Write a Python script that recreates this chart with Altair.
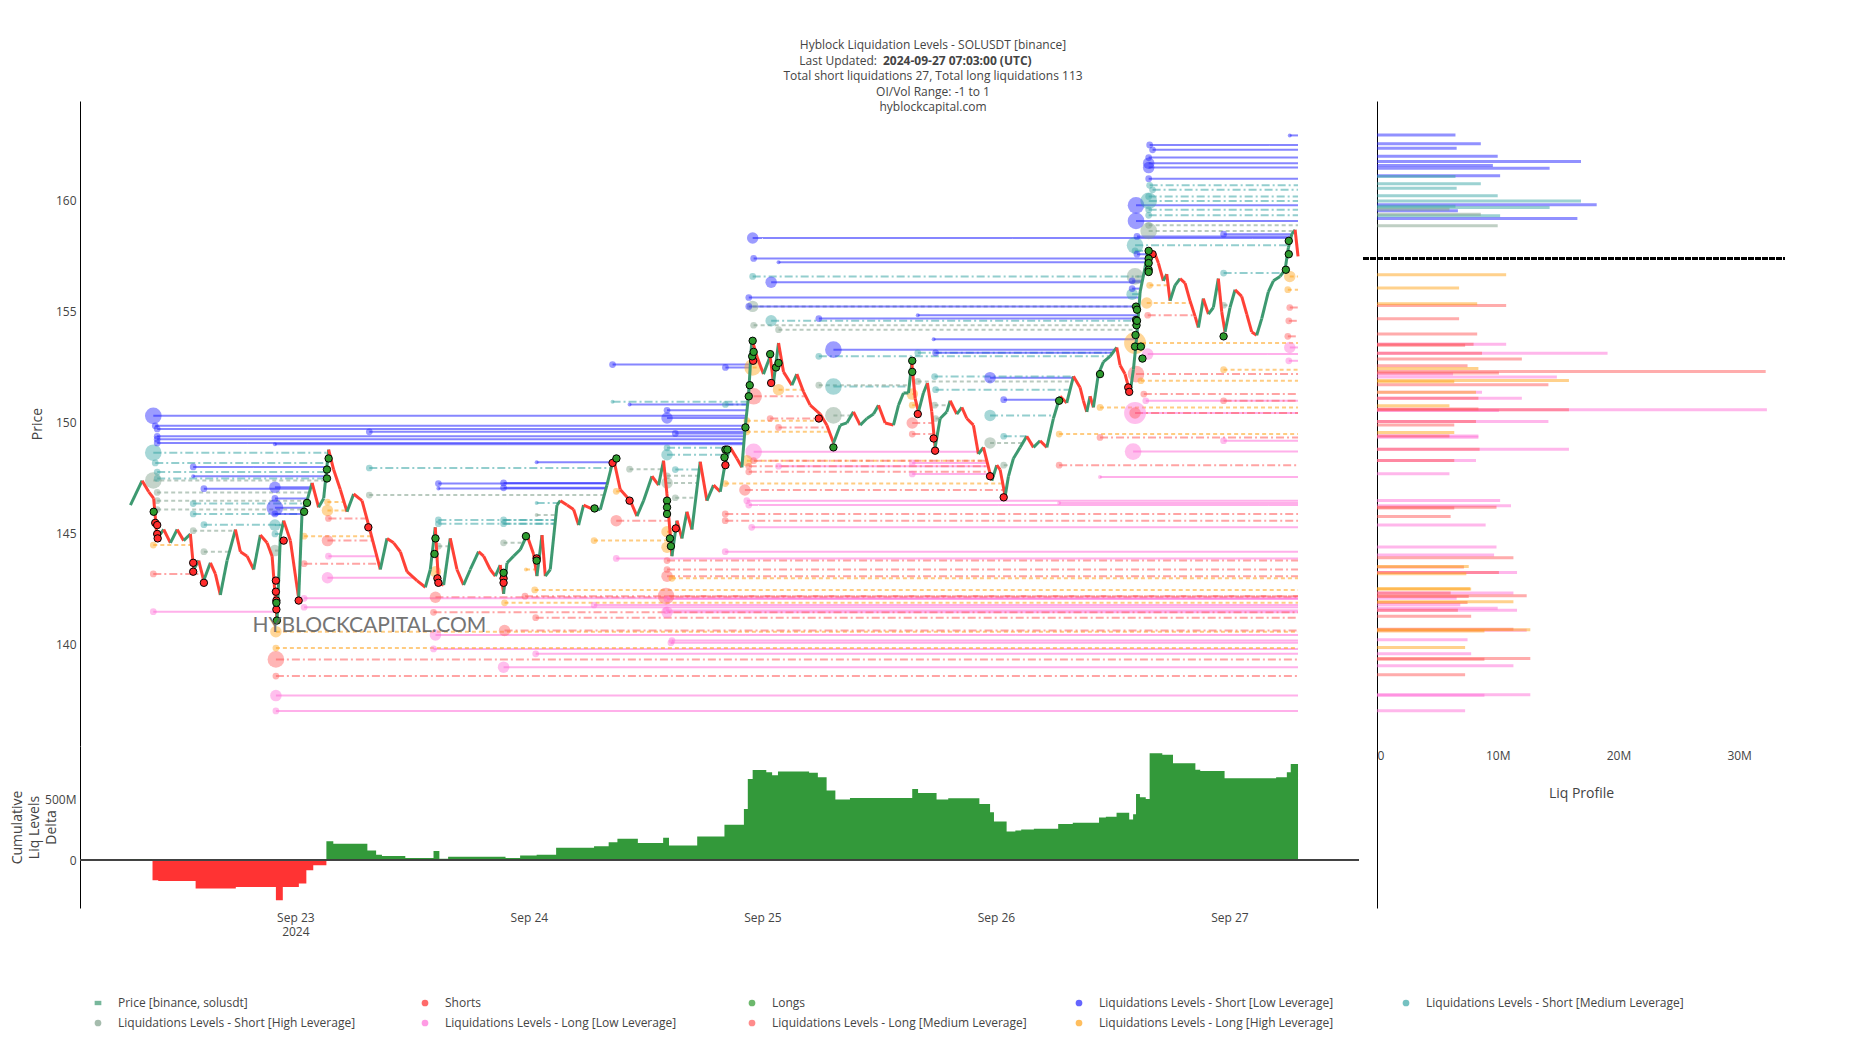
import altair as alt
import numpy as np
import pandas as pd

BASE = pd.Timestamp("2024-09-22 00:00:00")
END_H = 127.05

# ---------------- price path (hours since Sep 22 00:00, price) ----------------
price_hours = [7.05, 8.25, 8.93, 9.44, 9.79, 10.47, 11.16, 11.85, 12.52, 13.21, 13.55, 14.07, 14.58, 15.27, 15.78,
               16.29, 16.98, 17.84, 18.35, 19.04, 19.72, 20.40, 21.09, 21.61, 22.12, 22.46, 22.80, 23.49, 24.34,
               24.69, 25.20, 25.72, 26.39, 26.91, 27.42, 27.93, 28.62, 29.31, 29.99, 30.85, 31.53, 32.73, 33.42,
               34.10, 34.79, 35.48, 36.50, 37.36, 37.87, 38.38, 38.72, 39.24, 39.92, 40.61, 41.29, 41.98, 42.83,
               43.35, 44.03, 44.55, 45.06, 45.40, 45.75, 46.43, 47.12, 47.80, 48.48, 48.83, 49.35, 49.69, 50.20,
               50.89, 51.23, 51.92, 52.60, 53.11, 53.62, 54.65, 55.34, 56.02, 56.70, 57.39, 58.42, 59.11, 59.79,
               60.65, 61.33, 61.84, 62.19, 62.70, 63.22, 63.73, 64.24, 64.76, 65.61, 66.30, 66.98, 67.67, 68.18,
               68.69, 69.38, 69.89, 70.23, 70.57, 70.92, 71.43, 72.11, 72.80, 73.14, 73.66, 74.17, 75.03, 75.54,
               76.23, 76.91, 77.94, 78.63, 79.31, 80.00, 80.68, 81.36, 82.05, 82.74, 83.42, 83.93, 84.62, 85.47,
               85.99, 86.50, 87.01, 87.36, 87.70, 88.04, 88.55, 88.96, 89.41, 89.75, 90.27, 90.95, 91.30, 91.98,
               92.50, 93.01, 93.69, 94.20, 94.72, 95.58, 96.09, 96.43, 96.95, 97.29, 97.80, 98.49, 99.17, 99.86,
               100.54, 101.23, 101.91, 102.60, 103.28, 103.97, 104.65, 104.99, 105.34, 105.68, 106.02, 106.53,
               107.05, 107.73, 108.42, 108.76, 109.27, 109.79, 110.13, 110.48, 110.82, 111.33, 111.67, 112.02,
               112.36, 112.70, 113.21, 113.56, 113.90, 114.41, 114.93, 115.44, 115.95, 116.47, 116.81, 117.32,
               117.84, 118.35, 118.86, 119.21, 119.55, 120.06, 120.58, 121.26, 121.78, 122.29, 122.80, 123.32,
               124.00, 124.52, 125.20, 125.72, 126.06, 126.41, 126.75, 127.05]
price_values = [146.3, 147.4, 146.9, 146.6, 144.8, 145.2, 144.6, 145.2, 144.7, 145.0, 143.4, 143.8, 142.9, 143.7, 143.2,
                142.25, 143.8, 145.2, 144.2, 144.0, 143.4, 144.95, 144.6, 144.0, 141.1, 144.9, 145.6, 144.7, 142.1,
                146.0, 146.5, 147.3, 146.2, 146.6, 148.8, 147.9, 147.0, 146.0, 146.8, 146.5, 145.4, 143.4, 144.8,
                144.6, 144.2, 143.3, 142.9, 142.6, 143.4, 145.3, 142.8, 142.7, 144.8, 143.4, 142.7, 143.4, 144.2,
                144.0, 143.4, 143.1, 143.6, 142.3, 143.7, 144.0, 144.3, 144.95, 144.1, 143.1, 144.95, 143.1, 143.4,
                146.3, 146.5, 146.3, 146.1, 145.4, 146.3, 146.1, 146.1, 147.2, 148.4, 147.0, 146.5, 145.8, 146.5,
                147.6, 147.2, 148.3, 146.8, 144.0, 145.6, 144.8, 146.0, 145.2, 148.25, 146.5, 147.2, 146.9, 148.2,
                148.9, 148.4, 148.0, 149.8, 151.2, 153.8, 153.0, 152.2, 153.0, 151.8, 153.6, 152.3, 151.7, 152.2,
                151.4, 150.8, 150.4, 149.9, 149.1, 149.9, 150.0, 150.5, 149.9, 150.2, 150.4, 150.8, 150.0, 149.9,
                150.8, 151.35, 151.35, 152.7, 151.1, 150.5, 151.35, 151.8, 150.5, 148.9, 150.2, 150.5, 151.0, 150.4,
                150.7, 150.2, 149.9, 148.6, 148.9, 147.4, 148.1, 147.9, 146.7, 147.6, 148.4, 148.9, 149.4, 148.9,
                149.2, 148.9, 150.2, 151.2, 150.9, 152.1, 151.6, 151.0, 150.5, 151.2, 150.7, 152.2,
                152.75, 153.0, 153.4, 152.6, 152.2, 151.35, 152.4, 153.9, 155.9, 157.0, 157.9, 157.7,
                157.6, 157.2, 156.4, 156.7, 155.5, 156.2, 156.5, 156.3, 155.5, 154.8, 154.3, 155.6,
                154.9, 155.2, 156.5, 155.0, 154.1, 155.2, 156.0, 155.7, 154.9, 154.1, 153.95, 154.7,
                155.9, 156.4, 156.6, 156.9, 157.9, 158.5, 158.7, 157.5]

# ---------------- liquidation events on the price path ----------------
short_hours = [9.6, 9.8, 9.8, 9.85, 13.5, 13.5, 14.6, 22.0, 22.0, 22.05, 22.05, 22.8, 24.34, 31.5, 38.6, 38.7, 45.4,
               45.4, 48.8, 56.6, 58.35, 63.1, 68.2, 71.05, 72.9, 77.8, 87.97, 89.6, 89.75, 95.4, 96.8, 109.6,
               109.7, 112.1]
short_prices = [145.5, 145.4, 145.0, 144.8, 143.7, 143.3, 142.8, 142.9, 142.4, 142.0, 141.6, 144.7, 142.0, 145.3,
                143.0, 142.8, 143.0, 142.8, 143.9, 148.2, 146.5, 145.25, 148.1, 152.8, 151.8, 150.2, 150.4, 149.3,
                148.75, 147.6, 146.65, 151.6, 151.4, 157.6]
long_hours = [9.44, 22.05, 22.1, 24.9, 25.2, 27.25, 27.25, 27.42, 38.3, 38.4, 45.4, 47.7, 48.8, 54.75, 57.0, 62.2,
              62.2, 62.2, 62.5, 62.6, 68.1, 68.2, 68.4, 70.26, 70.6, 70.7, 70.95, 71.0, 71.1, 72.8, 73.4, 73.66,
              79.3, 87.4, 87.4, 102.5, 106.7, 110.3, 110.35, 110.4, 110.4, 110.45, 110.5, 110.5, 110.9, 111.06,
              111.7, 111.7, 111.7, 111.7, 111.7, 119.4, 125.8, 126.1, 126.1]
long_prices = [146.0, 141.9, 141.1, 146.0, 146.4, 147.5, 147.9, 148.4, 144.1, 144.8, 143.25, 144.9, 143.8, 146.15,
               148.4, 146.5, 146.2, 145.9, 144.8, 144.45, 148.45, 148.8, 148.8, 149.8, 151.2, 151.7, 153.0, 153.7,
               153.2, 153.1, 152.5, 152.7, 148.9, 152.8, 152.3, 151.0, 152.2, 153.44, 153.96, 155.24, 154.64,
               154.4, 155.1, 154.6, 153.44, 152.9, 157.75, 157.4, 157.2, 156.9, 156.8, 153.9, 156.9, 157.6, 158.2]

# ---------------- liquidation levels: (start hour, price, marker weight 0-4) ----------------
levels_short_low = [(9.4, 150.32, 3), (9.6, 149.87, 1), (9.8, 149.73, 1), (9.8, 149.40, 1), (9.8, 149.27, 1),
                    (9.8, 149.10, 1), (21.9, 149.04, 0), (13.5, 148.02, 1), (13.5, 147.60, 0), (14.6, 147.04, 1),
                    (21.9, 147.10, 2), (21.9, 146.60, 1), (21.9, 146.18, 3), (21.9, 145.90, 1), (31.6, 149.60, 1),
                    (48.8, 148.23, 0), (38.7, 147.27, 1), (38.7, 147.05, 0), (45.4, 147.30, 1), (45.4, 147.08, 1),
                    (56.6, 152.63, 1), (58.35, 150.83, 0), (62.2, 150.57, 1), (62.2, 150.22, 2), (63.05, 149.53, 1),
                    (68.2, 152.50, 1), (71.0, 158.33, 2), (71.1, 157.41, 1), (73.66, 157.24, 0), (72.9, 156.34, 2),
                    (70.6, 155.65, 1), (70.6, 155.25, 1), (77.8, 154.70, 1), (79.3, 153.30, 3), (87.97, 154.85, 0),
                    (89.6, 153.77, 0), (89.8, 153.16, 1), (95.4, 152.04, 2), (96.8, 151.05, 1), (111.8, 162.52, 1),
                    (112.1, 162.30, 1), (111.7, 161.95, 1), (111.7, 161.70, 2), (111.7, 161.50, 2), (111.7, 161.00, 1),
                    (126.2, 162.95, 0), (110.4, 159.80, 3), (110.4, 159.10, 3), (110.5, 158.40, 1), (119.4, 158.50, 1),
                    (110.5, 157.60, 1), (110.0, 156.40, 1), (110.0, 156.05, 1)]
levels_short_med = [(9.4, 148.66, 3), (9.6, 148.20, 1), (9.8, 147.79, 1), (9.8, 147.50, 1), (13.5, 146.37, 1),
                    (13.5, 145.90, 1), (14.6, 145.42, 1), (21.9, 145.40, 2), (21.9, 145.00, 1), (31.6, 147.97, 1),
                    (38.7, 145.63, 1), (38.7, 145.46, 1), (45.4, 145.63, 1), (45.4, 145.46, 1), (48.8, 146.40, 0),
                    (56.6, 150.95, 0), (62.2, 148.88, 1), (62.2, 148.57, 2), (63.05, 147.90, 1), (68.2, 150.83, 1),
                    (71.0, 156.60, 1), (72.9, 154.60, 2), (77.8, 153.00, 1), (79.3, 151.64, 3), (87.97, 153.16, 1),
                    (89.7, 152.09, 1), (89.8, 151.50, 1), (95.4, 150.34, 2), (96.8, 149.40, 1), (111.8, 160.70, 1),
                    (112.1, 160.50, 1), (111.7, 160.20, 1), (111.7, 160.00, 3), (111.7, 159.60, 1), (111.7, 159.35, 1),
                    (110.3, 158.00, 3), (110.3, 157.75, 1), (119.4, 156.75, 1), (110.0, 155.80, 2)]
levels_short_high = [(9.4, 147.41, 3), (9.8, 146.87, 1), (9.8, 146.50, 1), (9.8, 146.10, 1), (13.5, 145.15, 1),
                     (14.6, 144.20, 1), (21.9, 144.25, 2), (31.6, 146.75, 1), (38.7, 144.45, 1), (45.4, 144.60, 1),
                     (48.8, 145.85, 0), (58.35, 147.92, 1), (62.2, 147.62, 1), (62.2, 147.30, 2), (63.05, 146.63, 1),
                     (71.0, 155.25, 2), (71.1, 154.40, 1), (73.66, 154.20, 1), (77.8, 151.70, 1), (79.3, 150.34, 3),
                     (87.97, 151.87, 1), (89.7, 150.80, 1), (89.8, 150.20, 1), (95.4, 149.10, 2), (96.8, 148.10, 1),
                     (111.7, 158.90, 1), (111.7, 158.65, 3), (110.3, 156.60, 3), (119.4, 155.30, 1)]
levels_long_low = [(9.4, 141.50, 1), (24.9, 141.70, 1), (24.9, 142.10, 1), (22.0, 137.72, 2), (22.0, 137.03, 1),
                   (38.4, 140.45, 2), (38.2, 139.82, 1), (48.7, 139.60, 1), (45.4, 139.00, 2), (54.7, 141.80, 1),
                   (62.1, 141.55, 1), (62.7, 140.20, 1), (56.98, 143.90, 1), (68.18, 144.20, 1), (70.4, 146.50, 1),
                   (70.6, 146.30, 1), (70.9, 145.30, 1), (71.1, 148.70, 3), (73.66, 148.05, 1), (62.2, 142.07, 1),
                   (62.2, 141.47, 2), (62.6, 140.10, 1), (87.4, 148.20, 1), (87.4, 147.70, 1), (102.5, 146.40, 0),
                   (106.7, 147.57, 0), (110.1, 148.71, 3), (110.3, 150.45, 4), (111.6, 153.10, 2), (111.4, 151.00, 1),
                   (119.4, 149.20, 1), (126.2, 153.40, 2), (126.1, 152.80, 1), (27.4, 144.00, 1), (27.3, 143.03, 2)]
levels_long_med = [(9.4, 143.20, 1), (38.4, 142.15, 2), (47.6, 142.20, 1), (38.2, 141.47, 1), (48.7, 141.23, 1),
                   (45.5, 140.65, 2), (22.0, 139.35, 3), (22.0, 138.60, 1), (62.1, 142.20, 3), (56.98, 145.60, 2),
                   (62.2, 143.80, 1), (62.2, 143.40, 1), (62.2, 143.10, 2), (68.18, 145.90, 1), (68.18, 145.60, 1),
                   (70.2, 146.98, 2), (70.6, 148.05, 1), (70.6, 147.80, 1), (71.1, 148.30, 1), (73.66, 149.80, 1),
                   (72.8, 150.20, 1), (71.1, 151.20, 3), (87.4, 150.00, 2), (87.4, 149.50, 1), (102.5, 148.10, 1),
                   (106.7, 149.35, 1), (110.4, 152.20, 3), (110.3, 150.45, 2), (111.2, 151.30, 1), (111.6, 154.85, 1),
                   (119.4, 151.00, 1), (126.2, 155.20, 1), (126.1, 154.60, 1), (126.0, 153.90, 1), (27.4, 145.70, 1),
                   (27.3, 144.70, 2), (24.9, 143.66, 1)]
levels_long_high = [(9.4, 144.50, 1), (22.0, 140.60, 2), (22.0, 139.86, 1), (48.6, 142.48, 1), (45.5, 141.90, 1),
                    (27.3, 146.06, 2), (27.3, 146.44, 1), (24.9, 144.90, 1), (38.4, 143.30, 2), (47.7, 143.40, 0),
                    (54.7, 144.70, 1), (56.98, 146.92, 1), (62.2, 145.10, 2), (62.2, 144.40, 2), (62.7, 143.00, 1),
                    (68.18, 147.27, 1), (70.4, 148.30, 2), (70.4, 150.10, 1), (70.4, 149.60, 1), (71.0, 152.50, 3),
                    (73.66, 151.50, 2), (87.4, 151.30, 2), (87.4, 150.80, 1), (102.5, 149.50, 1), (106.7, 150.70, 1),
                    (110.3, 153.60, 4), (111.5, 155.40, 2), (111.8, 156.20, 1), (110.9, 151.90, 1), (119.4, 152.40, 1),
                    (126.2, 156.60, 2), (126.0, 156.00, 1)]

# ---------------- cumulative liq levels delta (step start hour, value in millions) ----------------
delta_hours = [7.0, 9.32, 9.91, 13.75, 17.88, 22.0, 22.71, 24.36, 25.13, 25.84, 27.19, 27.9, 31.4, 32.3, 32.9, 35.3,
               38.2, 38.8, 39.7, 45.6, 47.1, 48.8, 50.8, 54.7, 56.2, 57.1, 59.2, 61.8, 62.4, 65.3, 68.1, 70.1, 70.5,
               71.0, 72.4, 73.0, 73.6, 76.8, 77.7, 78.6, 79.5, 81.0, 87.4, 88.0, 89.9, 91.1, 94.3, 95.4, 95.8, 97.1,
               98.0, 98.6, 99.9, 102.4, 103.9, 106.6, 107.3, 108.4, 109.7, 110.1, 110.4, 110.8, 111.4, 111.8, 113.1,
               114.2, 116.5, 117.0, 119.5, 124.8, 125.9, 126.3, 127.05]
delta_values_m = [11, -164, -170, -232, -219, -328, -219, -191, -82, -41, 158, 137, 82, 46, 36, 19, 76, 14, 30, 19,
                  41, 46, 104, 117, 150, 178, 142, 186, 123, 197, 292, 423, 669, 743, 724, 700, 732, 720, 683, 574,
                  500, 514, 587, 555, 500, 511, 464, 396, 320, 238, 246, 254, 260, 300, 309, 352, 358, 391, 336, 380,
                  546, 519, 505, 882, 869, 800, 746, 735, 675, 683, 724, 792, 792]

# ---------------- liq profile: (price, amount in millions) ----------------
profile_short_low = [(162.97, 6.5), (162.57, 8.6), (162.37, 6.6), (162.01, 10.0), (161.77, 16.9), (161.59, 9.6),
                     (161.47, 14.3), (161.13, 10.2), (159.82, 18.2), (159.56, 6.7), (159.21, 16.6)]
profile_short_med = [(161.10, 6.5), (160.77, 8.6), (160.57, 6.6), (160.23, 10.0), (160.00, 16.9), (159.70, 14.3),
                     (159.33, 10.2), (159.76, 6.5)]
profile_short_high = [(159.40, 8.6), (158.88, 10.0), (159.62, 6.0)]
profile_long_low = [(153.54, 10.7), (153.14, 19.1), (152.06, 14.9), (152.20, 6.3), (151.38, 8.7), (151.11, 12.0),
                    (150.59, 32.3), (150.55, 10.1), (150.06, 14.2), (149.41, 8.4), (149.35, 8.4), (148.81, 15.9),
                    (148.30, 8.2), (147.70, 6.0), (146.50, 10.2), (146.26, 11.1), (145.40, 9.0), (144.40, 9.9),
                    (144.05, 9.7), (143.26, 11.6), (142.33, 11.3), (142.10, 6.6), (141.80, 6.9), (141.65, 10.0),
                    (141.55, 11.6), (140.65, 12.4), (140.23, 7.5), (139.60, 7.8), (139.05, 11.3), (137.75, 12.7),
                    (137.72, 8.9), (137.03, 7.3)]
profile_long_med = [(155.29, 10.7), (154.69, 6.8), (154.00, 8.3), (153.54, 8.0), (153.50, 7.3), (153.14, 8.7),
                    (152.88, 12.0), (152.57, 7.5), (152.31, 32.2), (152.24, 10.1), (151.71, 14.2), (151.11, 8.4),
                    (150.59, 15.9), (150.62, 8.4), (150.06, 8.2), (149.90, 6.4), (149.41, 6.0), (148.81, 8.5),
                    (148.30, 6.4), (146.16, 6.4), (146.20, 9.9), (145.78, 6.1), (143.92, 11.3), (143.50, 7.2),
                    (143.26, 10.1), (142.33, 6.1), (142.21, 12.4), (142.18, 7.6), (141.90, 7.5), (141.55, 6.7),
                    (141.28, 7.8), (140.70, 11.3), (139.38, 12.7), (139.35, 8.9), (138.65, 7.3)]
profile_long_high = [(156.67, 10.7), (156.07, 6.8), (155.36, 8.3), (152.45, 8.4), (151.91, 15.9), (151.85, 6.4),
                     (151.38, 8.2), (150.77, 6.0), (149.56, 6.4), (143.53, 7.6), (143.20, 7.4), (142.52, 7.7),
                     (142.51, 7.8), (141.94, 11.3), (140.68, 12.7), (140.62, 8.9), (139.88, 7.3)]
CURRENT_PRICE = 157.42
CURRENT_LINE_X = (-1.1e6, 33.8e6)

# ---------------- text ----------------
TITLE_LINES = ["Hyblock Liquidation Levels - SOLUSDT [binance]", None,
               "Total short liquidations 27, Total long liquidations 113", "OI/Vol Range: -1 to 1",
               "hyblockcapital.com"]
TITLE_LINE2_A = "Last Updated:"
TITLE_LINE2_B = "2024-09-27 07:03:00 (UTC)"
WATERMARK = "HYBLOCKCAPITAL.COM"
WATERMARK_AT = (31.6, 140.86)

S_PRICE = "Price [binance, solusdt]"
S_SHORTS = "Shorts"
S_LONGS = "Longs"
S_SL = "Liquidations Levels - Short [Low Leverage]"
S_SM = "Liquidations Levels - Short [Medium Leverage]"
S_SH = "Liquidations Levels - Short [High Leverage]"
S_LL = "Liquidations Levels - Long [Low Leverage]"
S_LM = "Liquidations Levels - Long [Medium Leverage]"
S_LH = "Liquidations Levels - Long [High Leverage]"
SERIES = [S_PRICE, S_SHORTS, S_LONGS, S_SL, S_SM, S_SH, S_LL, S_LM, S_LH]
COLORS = ["#3D9970", "#ff2b2b", "#2e9a2e", "#2323ff", "#3aa6a6", "#7f9f8a", "#ff70d8", "#ff5a5a", "#ffa31a"]
DASHES = [[10, 0], [10, 0], [10, 0], [10, 0], [8, 3, 2, 3], [4, 3], [10, 0], [8, 3, 2, 3], [4, 3]]
SHAPES = ["M-1,-0.65L1,-0.65L1,0.65L-1,0.65Z"] + ["circle"] * 8
UP_COLOR, DOWN_COLOR = "#3D9970", "#FF4136"
FONT = "Open Sans"
TXT = "#444"


def ts(hours):
    return list((BASE + pd.to_timedelta(np.asarray(hours, dtype=float), unit="h")).strftime("%Y-%m-%dT%H:%M:%S"))


ph = np.asarray(price_hours)
pv = np.asarray(price_values)


def level_end(start, price, side):
    for i in range(len(ph) - 1):
        h0, h1, p0, p1 = ph[i], ph[i + 1], pv[i], pv[i + 1]
        if h1 <= start + 0.25:
            continue
        hit = max(p0, p1) >= price if side == "short" else min(p0, p1) <= price
        if not hit:
            continue
        f = 0.0 if p1 == p0 else min(max((price - p0) / (p1 - p0), 0.0), 1.0)
        t = h0 + f * (h1 - h0)
        if t <= start + 0.25:
            continue
        return t
    return END_H


rows = []
for series, side, lv in [(S_SL, "short", levels_short_low), (S_SM, "short", levels_short_med),
                         (S_SH, "short", levels_short_high), (S_LL, "long", levels_long_low),
                         (S_LM, "long", levels_long_med), (S_LH, "long", levels_long_high)]:
    for start, price, w in lv:
        rows.append(dict(series=series, start_h=start, end_h=level_end(start, price, side), price=price,
                         w=float(w)))
levels = pd.DataFrame(rows)
levels["start"] = ts(levels["start_h"])
levels["end"] = ts(levels["end_h"])
levels = levels.sort_values("w", ascending=False)

seg = pd.DataFrame({"t0": ts(ph[:-1]), "t1": ts(ph[1:]), "p0": pv[:-1], "p1": pv[1:]})
seg["up"] = seg["p1"] >= seg["p0"]

events = pd.DataFrame({
    "t": ts(short_hours + long_hours),
    "price": short_prices + long_prices,
    "series": [S_SHORTS] * len(short_hours) + [S_LONGS] * len(long_hours),
})

delta = pd.DataFrame({"t": ts(delta_hours), "v": np.asarray(delta_values_m, dtype=float) * 1e6})
delta["pos"] = delta["v"].clip(lower=0)
delta["neg"] = delta["v"].clip(upper=0)

prof_rows = []
for series, pr in [(S_SL, profile_short_low), (S_SM, profile_short_med), (S_SH, profile_short_high),
                   (S_LL, profile_long_low), (S_LM, profile_long_med), (S_LH, profile_long_high)]:
    for price, amt in pr:
        prof_rows.append(dict(series=series, price=price, amount=amt * 1e6))
profile = pd.DataFrame(prof_rows)

# ---------------- layout ----------------
W_MAIN, H_TOP, H_BOT = 1279, 645, 162
W_RIGHT = 408
x_dom = [alt.DateTime(year=2024, month=9, date=22, hours=1, minutes=52),
         alt.DateTime(year=2024, month=9, date=27, hours=13, minutes=19)]
x_scale = alt.Scale(domain=x_dom, nice=False)
y_top_scale = alt.Scale(domain=[135.45, 164.5], nice=False, zero=False)
y_right_scale = alt.Scale(domain=[128.14, 164.5], nice=False, zero=False)

legend = alt.Legend(orient="none", legendX=12, legendY=896, direction="horizontal", columns=5, title=None,
                    labelFontSize=12, labelColor=TXT, labelFont=FONT, symbolSize=45, labelOffset=14,
                    columnPadding=43, rowPadding=8, labelLimit=600, gridAlign="all", symbolStrokeWidth=0,
                    symbolOpacity=0.7)
color_enc = alt.Color("series:N", scale=alt.Scale(domain=SERIES, range=COLORS), legend=legend)
shape_enc = alt.Shape("series:N", scale=alt.Scale(domain=SERIES, range=SHAPES), legend=legend)
dash_enc = alt.StrokeDash("series:N", scale=alt.Scale(domain=SERIES, range=DASHES), legend=None)

X_top = alt.X("start:T", scale=x_scale, axis=None)

lines = alt.Chart(levels).mark_rule(strokeWidth=2, opacity=0.55, clip=True).encode(
    x=X_top, x2="end:T", y=alt.Y("price:Q", scale=y_top_scale), color=color_enc, strokeDash=dash_enc)
dots = alt.Chart(levels).mark_point(filled=True, opacity=0.45, clip=True).encode(
    x=X_top, y=alt.Y("price:Q", scale=y_top_scale), color=color_enc, shape=shape_enc,
    size=alt.Size("w:Q", scale=alt.Scale(type="pow", exponent=2, domain=[0, 4], range=[16, 480], zero=False),
                  legend=None))
candles = alt.Chart(seg).mark_rule(strokeWidth=3).encode(
    x=alt.X("t0:T", scale=x_scale, axis=None), x2="t1:T",
    y=alt.Y("p0:Q", scale=y_top_scale, axis=alt.Axis(title="Price", values=[140, 145, 150, 155, 160],
                                                     titleX=-36, titleFontSize=14, titleFontWeight="normal")),
    y2="p1:Q",
    color=alt.condition("datum.up", alt.value(UP_COLOR), alt.value(DOWN_COLOR)))
ev = alt.Chart(events).mark_point(filled=True, size=55, stroke="black", strokeWidth=1, opacity=1).encode(
    x=alt.X("t:T", scale=x_scale, axis=None), y=alt.Y("price:Q", scale=y_top_scale),
    color=color_enc, shape=shape_enc)
wm_df = pd.DataFrame({"t": ts([WATERMARK_AT[0]]), "price": [WATERMARK_AT[1]], "label": [WATERMARK]})
wm = alt.Chart(wm_df).mark_text(fontSize=21, font="Lato", color="#666", opacity=0.9).encode(
    x=alt.X("t:T", scale=x_scale, axis=None), y=alt.Y("price:Q", scale=y_top_scale), text="label:N")

# title block (text annotations above the plot)
title_layers = []
title_y = [-56, -40, -25, -9, 6]
for line, yy in zip(TITLE_LINES, title_y):
    if line is None:
        continue
    title_layers.append(alt.Chart(pd.DataFrame({"s": [line]})).mark_text(
        align="center", baseline="middle", fontSize=12, font=FONT, color=TXT).encode(
        x=alt.value(853), y=alt.value(yy), text="s:N"))
t2_df = pd.DataFrame({"a": [TITLE_LINE2_A], "b": [TITLE_LINE2_B]})
title_layers.append(alt.Chart(t2_df).mark_text(align="right", baseline="middle", fontSize=12, font=FONT,
                                               color=TXT).encode(x=alt.value(797), y=alt.value(-40), text="a:N"))
title_layers.append(alt.Chart(t2_df).mark_text(align="left", baseline="middle", fontSize=12, font=FONT, color=TXT,
                                               fontWeight="bold").encode(x=alt.value(803), y=alt.value(-40),
                                                                         text="b:N"))

top = alt.layer(lines, dots, candles, ev, wm, *title_layers).properties(width=W_MAIN, height=H_TOP)

label_expr = ("date(datum.value) == 23 ? [timeFormat(datum.value, '%b %d'), '2024'] "
              ": timeFormat(datum.value, '%b %d')")
x_bot = alt.X("t:T", scale=x_scale, axis=alt.Axis(
    values=[alt.DateTime(year=2024, month=9, date=d) for d in range(23, 28)], labelExpr=label_expr,
    domain=False, ticks=False, grid=False, labelPadding=4, title=None, labelFontSize=12))
y_bot_scale = alt.Scale(domain=[-392e6, 941e6], nice=False, zero=False)
y_bot_axis = alt.Axis(title=["Cumulative", "Liq Levels", "Delta"], values=[0, 500e6],
                      labelExpr="datum.value == 0 ? '0' : format(datum.value, '~s')",
                      titleX=-56, titleFontSize=14, titleFontWeight="normal", titleLineHeight=17)
area_pos = alt.Chart(delta).mark_area(interpolate="step-after", color="#33993a", opacity=1).encode(
    x=x_bot, y=alt.Y("pos:Q", scale=y_bot_scale, axis=y_bot_axis))
area_neg = alt.Chart(delta).mark_area(interpolate="step-after", color="#ff3333", opacity=1).encode(
    x=x_bot, y=alt.Y("neg:Q", scale=y_bot_scale))
zero = alt.Chart(delta).mark_rule(color=TXT, strokeWidth=1).encode(y=alt.datum(0))
bottom = alt.layer(area_pos, area_neg, zero).properties(width=W_MAIN, height=H_BOT)

left = alt.vconcat(top, bottom, spacing=0)

bars = alt.Chart(profile).mark_rule(strokeWidth=3, opacity=0.5).encode(
    x=alt.X("amount:Q", scale=alt.Scale(domain=[0, 33.8e6], nice=False),
            axis=alt.Axis(values=[0, 1e7, 2e7, 3e7], labelExpr="datum.value == 0 ? '0' : format(datum.value, '~s')",
                          domain=False, ticks=False, grid=False, offset=-162, labelPadding=4,
                          title="Liq Profile", titlePadding=25, titleFontSize=14, titleFontWeight="normal")),
    x2=alt.datum(0),
    y=alt.Y("price:Q", scale=y_right_scale, axis=alt.Axis(labels=False, ticks=False, grid=False, title=None)),
    color=color_enc)
cur = alt.Chart(profile).mark_rule(color="black", strokeWidth=2.5, strokeDash=[5, 2]).encode(
    x=alt.datum(CURRENT_LINE_X[0]), x2=alt.datum(CURRENT_LINE_X[1]), y=alt.datum(CURRENT_PRICE))
right = alt.layer(bars, cur).properties(width=W_RIGHT, height=H_TOP + H_BOT)

chart = alt.hconcat(left, right, spacing=2).properties(
    padding={"left": 2, "top": 31, "right": 0, "bottom": 30},
).configure(font=FONT).configure_view(stroke=None).configure_axis(
    labelFont=FONT, titleFont=FONT, labelColor=TXT, titleColor=TXT, labelFontSize=12, grid=False, ticks=False,
    domainColor="black", domainWidth=1, labelPadding=4
)

chart.save("out.html", embed_options={"renderer": "svg", "actions": False})
